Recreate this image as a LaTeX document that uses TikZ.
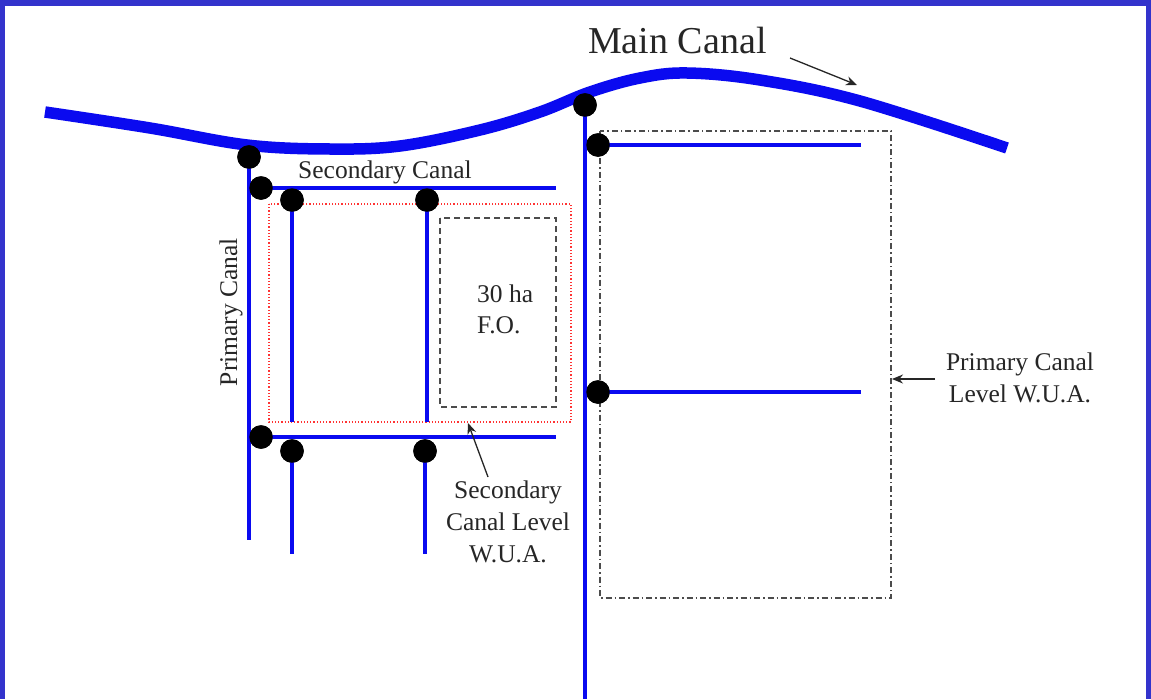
\documentclass[tikz,border=0pt]{standalone}
\usepackage{fontspec}
\setmainfont{Liberation Serif}
\usetikzlibrary{arrows.meta}
\definecolor{framebl}{RGB}{51,51,204}
\definecolor{canalbl}{RGB}{10,10,240}
\begin{document}
\begin{tikzpicture}[x=1pt,y=-1pt,
  canal/.style={draw=canalbl,line width=4pt},
  maincanal/.style={draw=canalbl,line width=11.5pt},
  gate/.style={circle,fill=black,inner sep=0pt,minimum size=23.5pt},
  lbl/.style={font=\fontsize{25.5}{31}\selectfont,text=black!85,inner sep=0pt},
  pointer/.style={draw=black!85,line width=1.3pt,-{Stealth[length=11pt,width=9pt]}},
  ]
\useasboundingbox (0,0) rectangle (1151,699);
\fill[framebl] (0,0) rectangle (1151,699);
\fill[white] (5,6) rectangle (1146,699);

% boundary rectangles
\draw[red!80,line width=1.2pt,dotted] (269,204) rectangle (571,422);
\draw[black!70,line width=1.5pt,dash pattern=on 6pt off 4pt] (440,218) rectangle (556,407);
\draw[black!70,line width=1.5pt,dash pattern=on 6pt off 3pt on 1.5pt off 3pt] (600,131) rectangle (891,598);

% main canal
\draw[maincanal] plot[smooth,tension=0.6] coordinates {(45,112) (150,128) (247,145) (330,149) (400,146) (480,130) (540,112) (590,92) (640,78) (687,73) (760,80) (860,101) (1007,148)};

% gates
\node[gate] (gA) at (249,157) {};
\node[gate] (gB) at (261,188) {};
\node[gate] (gC) at (292,200) {};
\node[gate] (gD) at (427,200) {};
\node[gate] (gE) at (261,437) {};
\node[gate] (gF) at (292,451) {};
\node[gate] (gG) at (425,451) {};
\node[gate] (gH) at (585,105) {};
\node[gate] (gI) at (598,145) {};
\node[gate] (gJ) at (598,392) {};

% canal ends
\coordinate (eA) at (249,540);
\coordinate (eB) at (556,188);
\coordinate (eC) at (292,422);
\coordinate (eD) at (427,422);
\coordinate (eE) at (556,437);
\coordinate (eF) at (292,554);
\coordinate (eG) at (425,554);
\coordinate (eH) at (585,699);
\coordinate (eI) at (861,145);
\coordinate (eJ) at (861,392);

\draw[canal] (gA.center) -- (eA);
\draw[canal] (gB.center) -- (eB);
\draw[canal] (gC.center) -- (eC);
\draw[canal] (gD.center) -- (eD);
\draw[canal] (gE.center) -- (eE);
\draw[canal] (gF.center) -- (eF);
\draw[canal] (gG.center) -- (eG);
\draw[canal] (gH.center) -- (eH);
\draw[canal] (gI.center) -- (eI);
\draw[canal] (gJ.center) -- (eJ);
\foreach \g in {gA,gB,gC,gD,gE,gF,gG,gH,gI,gJ} \node[gate] at (\g) {};

% labels
\node[lbl,anchor=base west,font=\fontsize{38}{44}\selectfont] (main) at (588,53) {Main Canal};
\coordinate (mainFrom) at (790,58);
\coordinate (mainTo) at (857,85);
\draw[pointer] (mainFrom) -- (mainTo);

\node[lbl,anchor=base west] (sec) at (298,178) {Secondary Canal};
\node[lbl,anchor=base,rotate=90] (prim) at (237,312) {Primary Canal};
\node[lbl,anchor=base west] (fo1) at (477,302) {30 ha};
\node[lbl,anchor=base west] (fo2) at (477,333) {F.O.};

\node[lbl,anchor=base] (sw1) at (508,498) {Secondary};
\node[lbl,anchor=base] (sw2) at (508,530) {Canal Level};
\node[lbl,anchor=base] (sw3) at (508,562) {W.U.A.};
\coordinate (swFrom) at (488,477);
\coordinate (swTo) at (468,423);
\draw[pointer] (swFrom) -- (swTo);

\node[lbl,anchor=base] (pw1) at (1020,370) {Primary Canal};
\node[lbl,anchor=base] (pw2) at (1020,402) {Level W.U.A.};
\coordinate (pwFrom) at (935,379);
\coordinate (pwTo) at (892,379);
\draw[pointer] (pwFrom) -- (pwTo);
\end{tikzpicture}
\end{document}
